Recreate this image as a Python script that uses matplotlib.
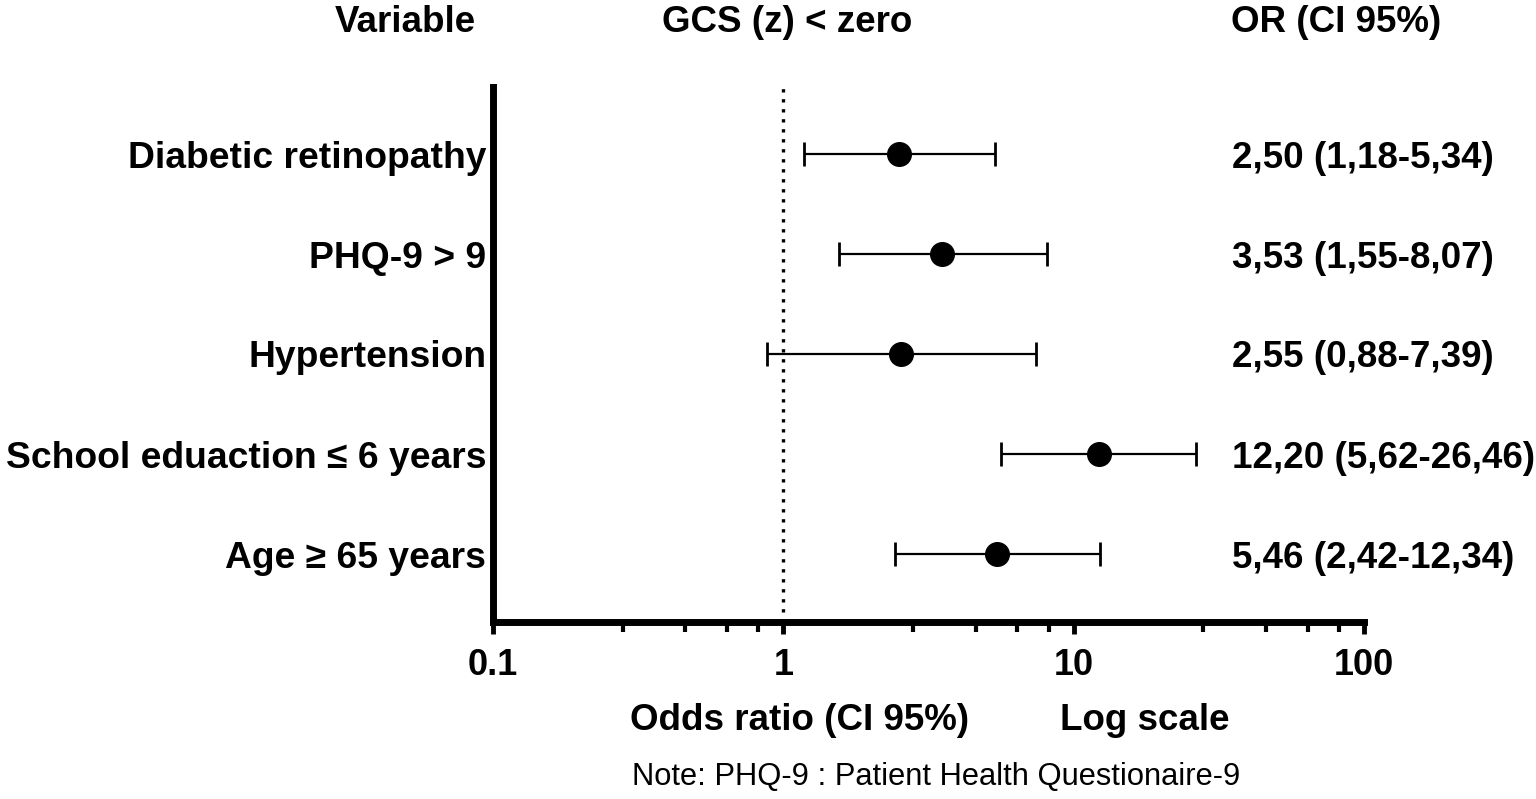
import matplotlib
matplotlib.use("Agg")
import matplotlib.pyplot as plt
from matplotlib.transforms import blended_transform_factory, ScaledTranslation
from matplotlib.ticker import FixedLocator, NullFormatter

plt.rcParams['font.family'] = ['Liberation Sans', 'DejaVu Sans']

variables = ["Diabetic retinopathy", "PHQ-9 > 9", "Hypertension",
             "School eduaction \u2264 6 years", "Age \u2265 65 years"]
odds = [2.50, 3.53, 2.55, 12.20, 5.46]
ci_low = [1.18, 1.55, 0.88, 5.62, 2.42]
ci_high = [5.34, 8.07, 7.39, 26.46, 12.34]
or_labels = ["2,50 (1,18-5,34)", "3,53 (1,55-8,07)", "2,55 (0,88-7,39)",
             "12,20 (5,62-26,46)", "5,46 (2,42-12,34)"]
major_ticks = [0.1, 1, 10, 100]
major_labels = ["0.1", "1", "10", "100"]
minor_ticks = [0.28, 0.46, 0.64, 0.82, 2.8, 4.6, 6.4, 8.2, 28, 46, 64, 82]

W, H = 1536, 799
fig = plt.figure(figsize=(W / 100, H / 100), dpi=100)
ax = fig.add_axes([493 / W, (H - 622) / H, (1364 - 493) / W, (622 - 87) / H])

n = len(variables)
ypos = [n - i for i in range(n)]

err_lo = [o - l for o, l in zip(odds, ci_low)]
err_hi = [h - o for o, h in zip(odds, ci_high)]
ax.errorbar(odds, ypos, xerr=[err_lo, err_hi], fmt='o', color='black',
            ecolor='black', elinewidth=1.6, capsize=8.5, capthick=2.0,
            markersize=17, zorder=3)

ax.axvline(1, color='black', linestyle=(0, (1, 2.0)), linewidth=2.4, zorder=1)

ax.set_xscale('log')
ax.set_xlim(0.1, 100)
ax.set_ylim(0.32, 5.67)

ax.xaxis.set_major_locator(FixedLocator(major_ticks))
ax.set_xticklabels(major_labels)
ax.xaxis.set_minor_locator(FixedLocator(minor_ticks))
ax.xaxis.set_minor_formatter(NullFormatter())
ax.tick_params(axis='x', which='major', length=8.5, width=3.5, pad=10,
               labelsize=26, direction='out')
ax.tick_params(axis='x', which='minor', length=7, width=3, direction='out')
for lab in ax.get_xticklabels():
    lab.set_fontweight('bold')

ax.set_yticks(ypos)
ax.set_yticklabels(variables, fontsize=26.8, fontweight='bold')
ax.tick_params(axis='y', length=0, pad=5)

for s in ['top', 'right']:
    ax.spines[s].set_visible(False)
for s in ['left', 'bottom']:
    ax.spines[s].set_linewidth(5)
    ax.spines[s].set_capstyle('projecting')

tr = blended_transform_factory(fig.transFigure, ax.transData) + \
    ScaledTranslation(0, -4 / 100, fig.dpi_scale_trans)
for y, t in zip(ypos, or_labels):
    ax.text(1232 / W, y, t, transform=tr, ha='left', va='center',
            fontsize=26.5, fontweight='bold', clip_on=False)

def ftext(x, y, s, **kw):
    fig.text(x / W, (H - y) / H, s, ha='center', va='center', **kw)

ftext(405, 23, "Variable", fontsize=26.5, fontweight='bold')
ftext(787, 23, "GCS (z) < zero", fontsize=26.5, fontweight='bold')
ftext(1336, 23, "OR (CI 95%)", fontsize=26.5, fontweight='bold')
ftext(800, 720, "Odds ratio (CI 95%)", fontsize=26.5, fontweight='bold')
ftext(1145, 720, "Log scale", fontsize=26.5, fontweight='bold')
ftext(936, 777, "Note: PHQ-9 : Patient Health Questionaire-9", fontsize=22.2)

fig.savefig("out.png", dpi=100)
